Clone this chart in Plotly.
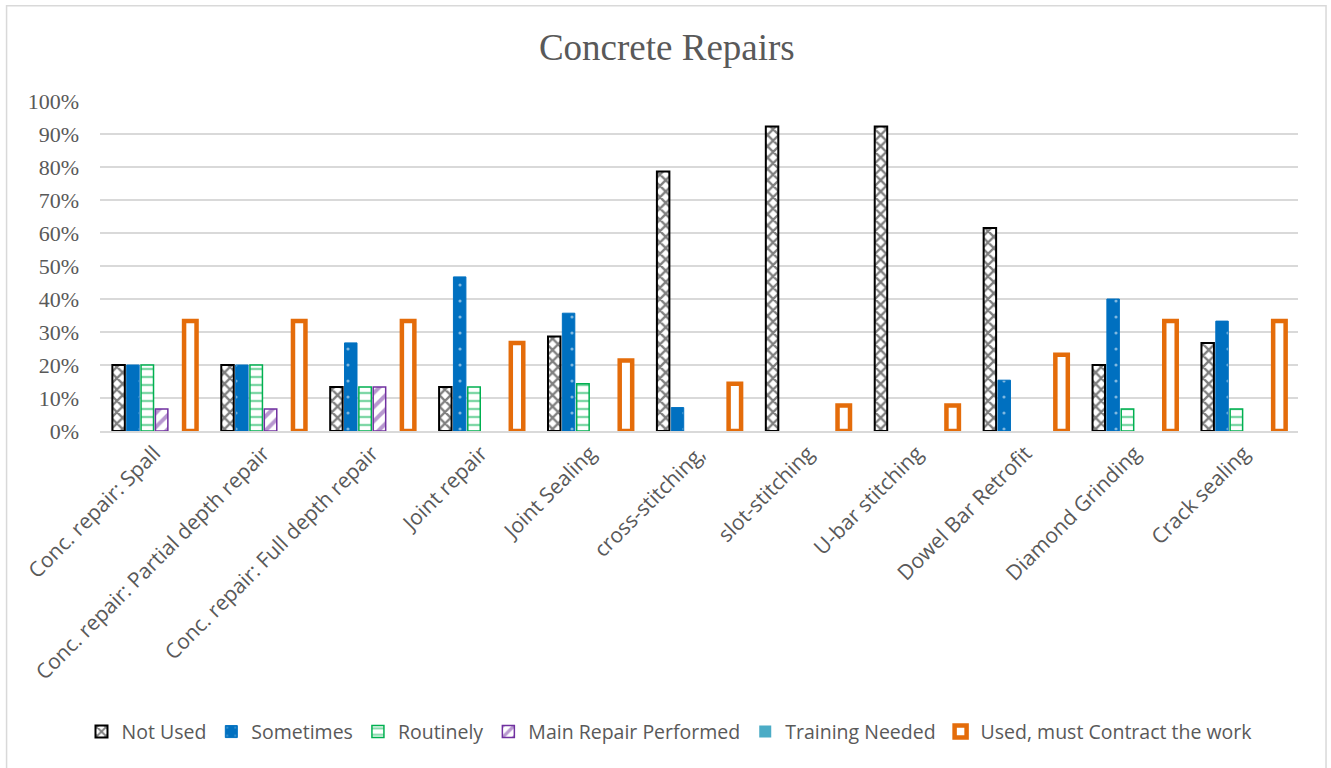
import plotly.graph_objects as go

# Categorías y series (fracciones)
categorias = [
    "Conc. repair: Spall",
    "Conc. repair: Partial depth repair",
    "Conc. repair: Full depth repair",
    "Joint repair",
    "Joint Sealing",
    "cross-stitching,",
    "slot-stitching",
    "U-bar stitching",
    "Dowel Bar Retrofit",
    "Diamond Grinding",
    "Crack sealing",
]

not_used = [0.20, 0.20, 0.133, 0.133, 0.286, 0.786, 0.923, 0.923, 0.615, 0.20, 0.267]
sometimes = [0.20, 0.20, 0.267, 0.467, 0.357, 0.071, 0, 0, 0.154, 0.40, 0.333]
routinely = [0.20, 0.20, 0.133, 0.133, 0.143, 0, 0, 0, 0, 0.067, 0.067]
main_repair = [0.067, 0.067, 0.133, 0, 0, 0, 0, 0, 0, 0, 0]
training = [0, 0, 0, 0, 0, 0, 0, 0, 0, 0, 0]
contract = [0.333, 0.333, 0.333, 0.267, 0.214, 0.143, 0.077, 0.077, 0.231, 0.333, 0.333]

GRIS = "#595959"


def sin_ceros(valores):
    # Excel no dibuja nada para los valores cero
    return [v if v > 0 else None for v in valores]


fig = go.Figure()

fig.add_trace(go.Bar(
    x=categorias, y=sin_ceros(not_used), name="Not Used",
    marker=dict(color="white", line=dict(color="black", width=2),
                pattern=dict(shape="x", fgcolor="black", bgcolor="white", size=8, solidity=0.5)),
))
fig.add_trace(go.Bar(
    x=categorias, y=sin_ceros(sometimes), name="Sometimes",
    marker=dict(color="#0070C0", line=dict(color="#0070C0", width=1),
                pattern=dict(shape=".", fgcolor="white", bgcolor="#0070C0", size=16, solidity=0.03)),
))
fig.add_trace(go.Bar(
    x=categorias, y=sin_ceros(routinely), name="Routinely",
    marker=dict(color="white", line=dict(color="#00B050", width=1.5),
                pattern=dict(shape="-", fgcolor="#00B050", bgcolor="white", size=8, solidity=0.3)),
))
fig.add_trace(go.Bar(
    x=categorias, y=sin_ceros(main_repair), name="Main Repair Performed",
    marker=dict(color="white", line=dict(color="#7030A0", width=1.5),
                pattern=dict(shape="/", fgcolor="#7030A0", bgcolor="white", size=10, solidity=0.4)),
))
fig.add_trace(go.Bar(
    x=categorias, y=sin_ceros(training), name="Training Needed",
    marker=dict(color="#4BACC6", line=dict(width=0)),
))
fig.add_trace(go.Bar(
    x=categorias, y=sin_ceros(contract), name="Used, must Contract the work",
    marker=dict(color="white", line=dict(color="#E46C0A", width=4.5)),
))

fig.update_layout(
    width=1331, height=768,
    paper_bgcolor="white", plot_bgcolor="white",
    margin=dict(l=100, r=33, t=101, b=337, autoexpand=False),
    barmode="group", bargap=0.21, bargroupgap=0.13,
    title=dict(text="Concrete Repairs", x=0.501, xref="container", xanchor="center",
               y=0.939, yanchor="middle",
               font=dict(family="Liberation Serif", size=37, color=GRIS)),
    font=dict(family="Open Sans", color=GRIS),
    legend=dict(orientation="h", xref="container", yref="container",
                x=0.503, xanchor="center", y=0.047, yanchor="middle",
                font=dict(family="Open Sans", size=19.5, color=GRIS),
                itemwidth=30, tracegroupgap=0),
    showlegend=True,
)

fig.update_yaxes(
    range=[0, 1], dtick=0.1, tickformat=".0%", automargin=False,
    showgrid=True, gridcolor="#D9D9D9", gridwidth=1.5,
    zeroline=False, showline=False, ticks="", ticklabelstandoff=20,
    tickfont=dict(family="Liberation Serif", size=22, color=GRIS),
)
fig.update_xaxes(
    tickangle=-45, automargin=False, showline=True, linecolor="#D9D9D9", linewidth=1.5,
    ticks="", tickfont=dict(family="Open Sans", size=21, color=GRIS),
)

# Borde exterior del área del gráfico
fig.add_shape(type="rect", xref="paper", yref="paper",
              x0=-0.078, x1=1.0234, y0=-1.05, y1=1.289,
              line=dict(color="#D9D9D9", width=1.5), layer="below")

# Quitar el margen por defecto del body para que la figura empiece en (0, 0)
fig.write_html("out.html", config={"displayModeBar": False},
               post_script="document.body.style.margin='0';")
